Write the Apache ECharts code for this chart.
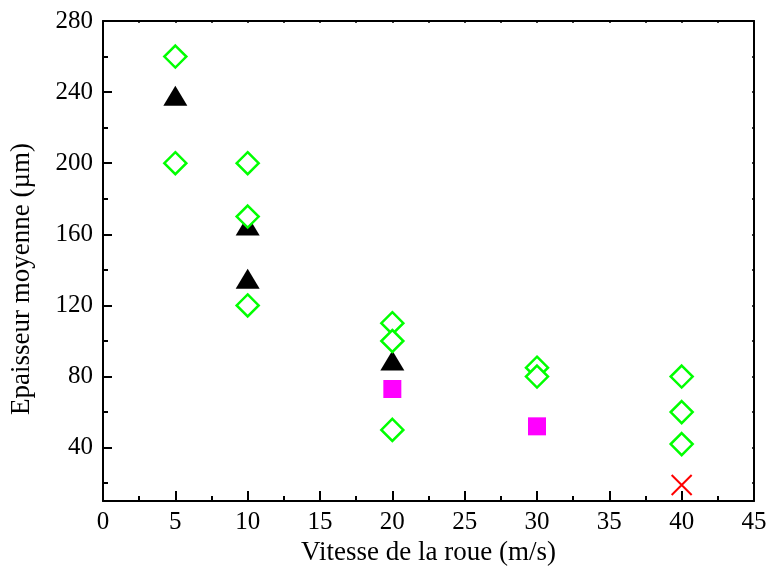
<!DOCTYPE html>
<html>
<head>
<meta charset="utf-8">
<script src="https://cdn.jsdelivr.net/npm/echarts@6/dist/echarts.min.js"></script>
<style>html,body{margin:0;padding:0;background:#fff}#c{width:770px;height:572px}</style>
</head>
<body>
<div id="c"></div>
<script>
// Data
var xTicks = [0, 5, 10, 15, 20, 25, 30, 35, 40, 45];
var yMajorTicks = [40, 80, 120, 160, 200, 240, 280];
var yMinorTicks = [20, 60, 100, 140, 180, 220, 260];
var yRightTicks = [20, 40, 60, 80, 100, 120, 140, 160, 180, 200, 220, 240, 260];
var blackTriangles = [[5, 238], [10, 165], [10, 135], [20, 89]];
var greenDiamonds = [[5, 260], [5, 200], [10, 200], [10, 170], [10, 120], [20, 110], [20, 100], [20, 50], [30, 85], [30, 80], [40, 80], [40, 60], [40, 42]];
var magentaSquares = [[20, 73], [30, 52]];
var redCrosses = [[40, 19]];
var xTitle = 'Vitesse de la roue (m/s)';
var yTitle = 'Epaisseur moyenne (\u00b5m)';

var font = 'Liberation Serif';
var chart = echarts.init(document.getElementById('c'));
var lineStyle = {color: '#000', width: 2};
chart.setOption({
  animation: false,
  backgroundColor: '#fff',
  grid: {left: 103, right: 16, top: 21, bottom: 71, containLabel: false, outerBoundsMode: 'none'},
  graphic: [{
    type: 'text', x: 22, y: 279, rotation: Math.PI / 2,
    style: {text: yTitle, fontFamily: font, fontSize: 27, fill: '#000', align: 'center', verticalAlign: 'middle'}
  }],
  xAxis: [{
    type: 'value', position: 'bottom', min: 0, max: 45, interval: 5,
    name: xTitle, nameLocation: 'middle', nameGap: 37,
    nameTextStyle: {fontFamily: font, fontSize: 27, color: '#000'},
    axisLine: {show: true, onZero: false, lineStyle: lineStyle},
    axisTick: {show: true, inside: true, length: 10, lineStyle: {color: '#000', width: 2}},
    minorTick: {show: true, splitNumber: 2, length: 5, lineStyle: {color: '#000', width: 2}},
    axisLabel: {fontFamily: font, fontSize: 25, color: '#000', margin: 9},
    splitLine: {show: false}
  }, {
    type: 'value', position: 'top', min: 0, max: 45, interval: 2.5,
    axisLine: {show: true, onZero: false, lineStyle: lineStyle},
    axisTick: {show: true, inside: true, length: 2, lineStyle: {color: '#000', width: 1.5}},
    axisLabel: {show: false}, splitLine: {show: false}
  }],
  yAxis: [{
    type: 'value', position: 'left', min: 10, max: 280,
    axisLine: {show: true, onZero: false, lineStyle: lineStyle},
    axisTick: {show: true, inside: true, length: 9, customValues: yMajorTicks, lineStyle: {color: '#000', width: 2}},
    axisLabel: {fontFamily: font, fontSize: 25, color: '#000', margin: 10, customValues: yMajorTicks},
    splitLine: {show: false}
  }, {
    type: 'value', position: 'left', min: 10, max: 280,
    axisLine: {show: false},
    axisTick: {show: true, inside: true, length: 5, customValues: yMinorTicks, lineStyle: {color: '#000', width: 2}},
    axisLabel: {show: false, customValues: yMinorTicks},
    splitLine: {show: false}
  }, {
    type: 'value', position: 'right', min: 10, max: 280,
    axisLine: {show: true, onZero: false, lineStyle: lineStyle},
    axisTick: {show: true, inside: true, length: 2, customValues: yRightTicks, lineStyle: {color: '#000', width: 1.5}},
    axisLabel: {show: false, customValues: yRightTicks},
    splitLine: {show: false}
  }],
  series: [{
    type: 'scatter', data: blackTriangles, symbol: 'triangle', symbolSize: [24, 20],
    itemStyle: {color: '#000', opacity: 1}, z: 2
  }, {
    type: 'scatter', data: magentaSquares, symbol: 'rect', symbolSize: 18,
    itemStyle: {color: '#ff00ff', opacity: 1}, z: 2
  }, {
    type: 'scatter', data: redCrosses, symbol: 'path://M0,0L10,10M10,0L0,10', symbolSize: 20,
    itemStyle: {color: 'none', borderColor: '#ff0000', borderWidth: 2, opacity: 1}, z: 2
  }, {
    type: 'scatter', data: greenDiamonds, symbol: 'diamond', symbolSize: 22,
    itemStyle: {color: '#ffffff', borderColor: '#00ff00', borderWidth: 2.5, opacity: 1}, z: 3
  }]
});
</script>
</body>
</html>
